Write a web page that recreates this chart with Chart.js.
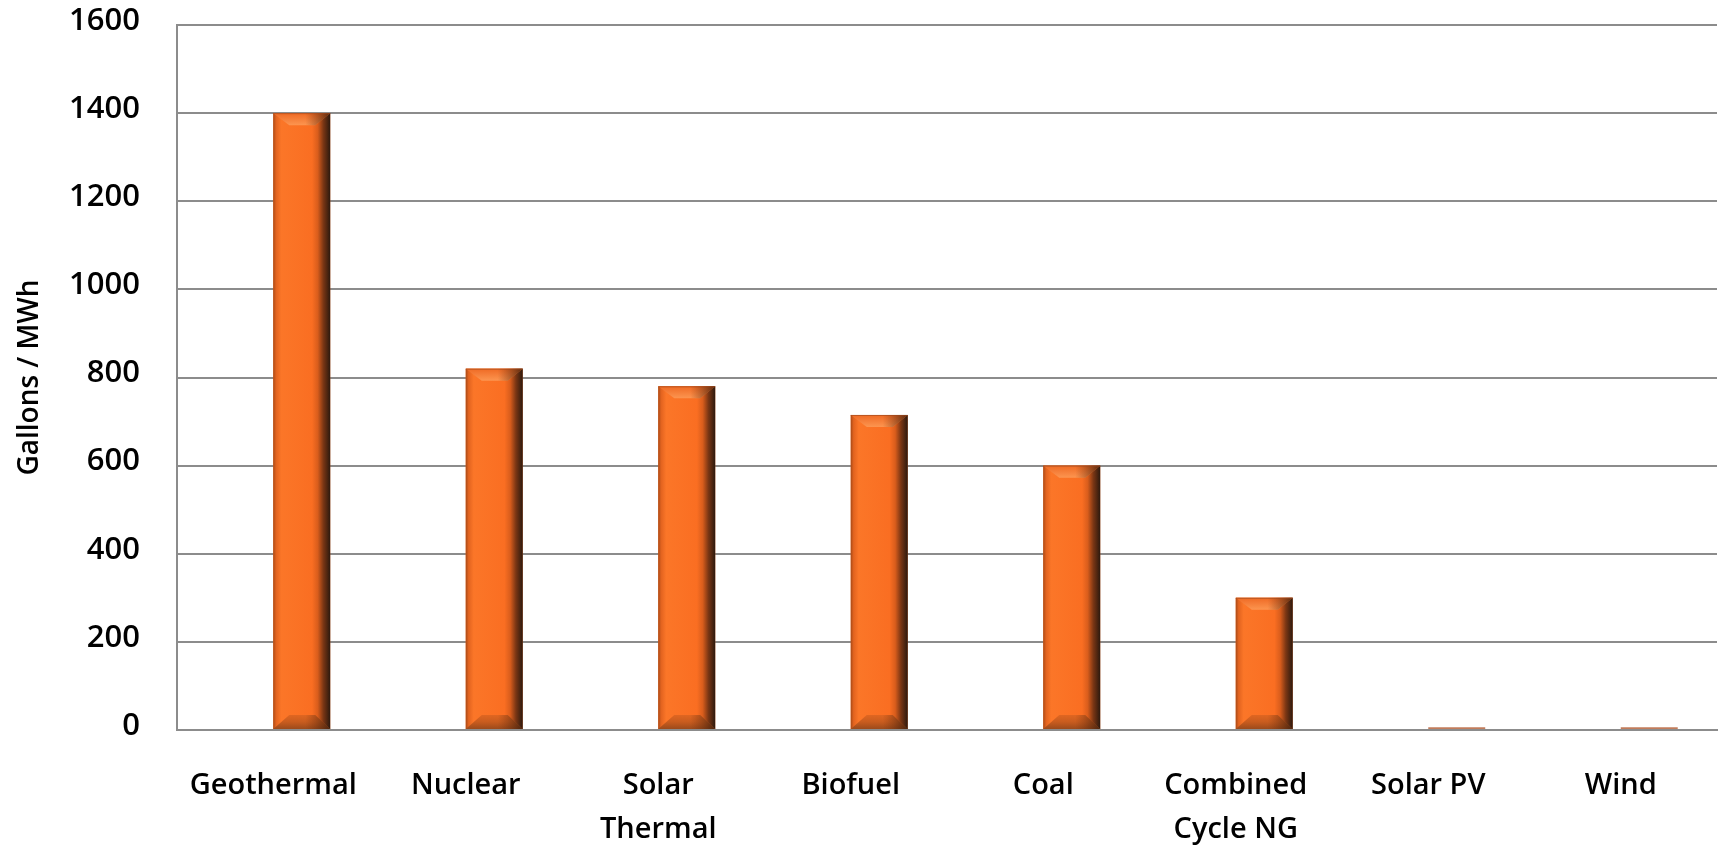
<!DOCTYPE html>
<html>
<head>
<meta charset="utf-8">
<script src="https://cdn.jsdelivr.net/npm/chart.js@4/dist/chart.umd.min.js"></script>
<style>
  html, body { margin: 0; padding: 0; background: #ffffff; }
  #wrap { width: 1719px; height: 846px; }
</style>
</head>
<body>
<div id="wrap"><canvas id="chart" width="1719" height="846"></canvas></div>
<script>
// Water consumption by generation technology
const categories = [
  'Geothermal', 'Nuclear', ['Solar', 'Thermal'], 'Biofuel',
  'Coal', ['Combined', 'Cycle NG'], 'Solar PV', 'Wind'
];
const gallonsPerMWh = [1400, 820, 780, 715, 600, 300, 6, 6];
// first series of the cluster carries no values, so the bars sit right of each label
const blankSeries = [null, null, null, null, null, null, null, null];
const yMin = 0;
const yMax = 1600;
const yStep = 200;
const axisTitle = 'Gallons / MWh';

const FONT = "'Open Sans', 'DejaVu Sans', sans-serif";
const GRID = '#8c8c8c';

// Shaded bevel on each bar: dark right side, light top edge, darker foot
const bevelPlugin = {
  id: 'bevel',
  afterDatasetsDraw(chart) {
    const ctx = chart.ctx;
    const meta = chart.getDatasetMeta(1);
    meta.data.forEach((bar) => {
      const p = bar.getProps(['x', 'y', 'base', 'width'], true);
      const l = p.x - p.width / 2, r = p.x + p.width / 2;
      const t = Math.min(p.y, p.base), b = Math.max(p.y, p.base);
      const h = b - t, w = p.width;
      if (h < 30) return;
      ctx.save();
      const g = ctx.createLinearGradient(l, 0, r, 0);
      g.addColorStop(0, '#a94a17');
      g.addColorStop(0.05, '#e2631f');
      g.addColorStop(0.14, '#fb7628');
      g.addColorStop(0.68, '#fa6e22');
      g.addColorStop(0.78, '#d95d1c');
      g.addColorStop(0.88, '#7a3614');
      g.addColorStop(1, '#2c190e');
      ctx.fillStyle = g;
      ctx.fillRect(l, t, w, h);

      const insL = 16, insR = 15;
      // top bevel
      const tb = 12;
      ctx.beginPath();
      ctx.moveTo(l, t);
      ctx.lineTo(r, t);
      ctx.lineTo(r - insR, t + tb);
      ctx.lineTo(l + insL, t + tb);
      ctx.closePath();
      const tg = ctx.createLinearGradient(0, t, 0, t + tb);
      tg.addColorStop(0, '#ef6a24');
      tg.addColorStop(1, '#fc9550');
      ctx.fillStyle = tg;
      ctx.fill();
      // right part of the top bevel falls into shadow
      ctx.beginPath();
      ctx.moveTo(r - insR - 10, t);
      ctx.lineTo(r, t);
      ctx.lineTo(r - insR, t + tb);
      ctx.lineTo(r - insR - 10, t + tb);
      ctx.closePath();
      const trg = ctx.createLinearGradient(r - insR - 10, 0, r, 0);
      trg.addColorStop(0, 'rgba(120,50,15,0)');
      trg.addColorStop(1, 'rgba(60,30,12,0.85)');
      ctx.fillStyle = trg;
      ctx.fill();
      // thin edge on the top
      ctx.fillStyle = 'rgba(150,70,30,0.6)';
      ctx.fillRect(l, t, w, 1);

      // bottom bevel
      const bb = 14;
      ctx.beginPath();
      ctx.moveTo(l, b);
      ctx.lineTo(r, b);
      ctx.lineTo(r - insR, b - bb);
      ctx.lineTo(l + insL, b - bb);
      ctx.closePath();
      const bg = ctx.createLinearGradient(0, b - bb, 0, b);
      bg.addColorStop(0, '#e06621');
      bg.addColorStop(0.5, '#c85c1f');
      bg.addColorStop(1, '#9c4a1b');
      ctx.fillStyle = bg;
      ctx.fill();
      ctx.beginPath();
      ctx.moveTo(r - insR - 10, b);
      ctx.lineTo(r, b);
      ctx.lineTo(r - insR, b - bb);
      ctx.lineTo(r - insR - 10, b - bb);
      ctx.closePath();
      ctx.fillStyle = trg;
      ctx.fill();
      ctx.restore();
    });
  }
};

new Chart(document.getElementById('chart'), {
  type: 'bar',
  data: {
    labels: categories,
    datasets: [
      {
        label: '',
        data: blankSeries,
        backgroundColor: '#fa6e22'
      },
      {
        label: axisTitle,
        data: gallonsPerMWh,
        backgroundColor: (c) => (c.raw !== undefined && c.raw < 20 ? '#c27c5b' : '#fa6e22'),
        borderWidth: 0
      }
    ]
  },
  options: {
    responsive: false,
    animation: false,
    layout: { padding: { left: 0, right: 2, top: 25, bottom: 0 } },
    datasets: {
      bar: { categoryPercentage: 0.592, barPercentage: 1.0 }
    },
    plugins: {
      legend: { display: false },
      tooltip: { enabled: false },
      title: { display: false }
    },
    scales: {
      x: {
        grid: { display: false, drawTicks: false },
        border: { display: true, color: GRID, width: 2 },
        ticks: {
          color: '#000000',
          font: { family: FONT, size: 29, weight: '600', lineHeight: 1.52 },
          padding: 34,
          maxRotation: 0,
          autoSkip: false
        },
        afterFit(scale) { scale.height = 116; }
      },
      y: {
        min: yMin,
        max: yMax,
        grid: { color: GRID, lineWidth: 2, drawTicks: false },
        border: { display: true, color: GRID, width: 2 },
        ticks: {
          stepSize: yStep,
          color: '#000000',
          font: { family: FONT, size: 31, weight: '600' },
          padding: 37,
          labelOffset: -4,
          callback: (v) => String(v)
        },
        title: {
          display: true,
          text: axisTitle,
          color: '#000000',
          font: { family: FONT, size: 28, weight: '600', lineHeight: 1.2 },
          padding: { top: 13, bottom: 0 }
        },
        afterFit(scale) {
          scale.width = 177;
          scale.paddingTop = 0;
          scale.paddingBottom = 0;
        }
      }
    }
  },
  plugins: [bevelPlugin]
});
</script>
</body>
</html>
